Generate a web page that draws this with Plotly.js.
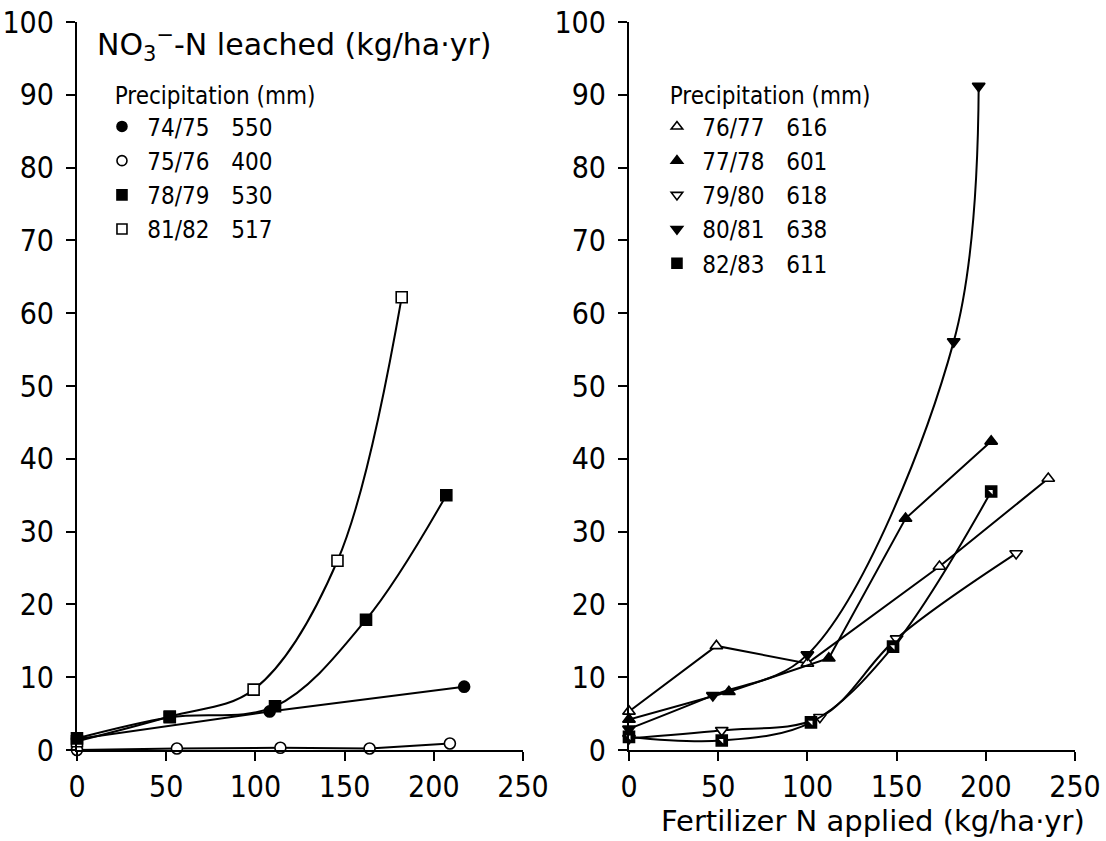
<!DOCTYPE html>
<html>
<head>
<meta charset="utf-8">
<script src="https://cdn.plot.ly/plotly-3.0.1.min.js"></script>
<style>html,body{margin:0;padding:0;background:#fff;}#chart{width:1106px;height:841px;}</style>
</head>
<body>
<div id="chart"></div>
<script>
// ---- Data ----
const xTicks = [0, 50, 100, 150, 200, 250];
const yTicks = [0, 10, 20, 30, 40, 50, 60, 70, 80, 90, 100];

// Left panel
const leftSeries = ["74/75", "75/76", "78/79", "81/82"];
const leftPrecip = [550, 400, 530, 517];
const x7475 = [0, 108, 217];           const y7475 = [1.5, 5.3, 8.7];
const x7576 = [0, 56, 114, 164, 209];  const y7576 = [0, 0.2, 0.3, 0.2, 0.9];
const x7879 = [0, 52, 111, 162, 207];  const y7879 = [1.6, 4.5, 6.0, 17.9, 35.0];
const x8182 = [0, 52, 99, 146, 182];   const y8182 = [1.2, 4.6, 8.3, 26.0, 62.2];

// Right panel
const rightSeries = ["76/77", "77/78", "79/80", "80/81", "82/83"];
const rightPrecip = [616, 601, 618, 638, 611];
const x7677 = [0, 49, 100, 174, 235];  const y7677 = [5.3, 14.3, 11.9, 25.2, 37.3];
const x7778 = [0, 56, 112, 155, 203];  const y7778 = [4.2, 8.0, 12.6, 31.8, 42.4];
const x7980 = [0, 52, 107, 150, 217];  const y7980 = [1.6, 2.7, 4.5, 15.3, 27.0];
const x8081 = [0, 47, 100, 182, 196];  const y8081 = [2.9, 7.5, 13.1, 56.1, 91.2];
const x8283 = [0, 52, 102, 148, 203];  const y8283 = [1.8, 1.3, 3.8, 14.2, 35.5];

// ---- Styling ----
const FONT = "'DejaVu Sans Condensed', 'DejaVu Sans', sans-serif";
const TFONT = "'DejaVu Sans', sans-serif";
const BLK = '#000';

function sym(name, filled) {
  return {symbol: name, size: 11, color: filled ? BLK : '#fff', line: {color: BLK, width: 1.6}};
}
function curve(x, y, xa, ya, marker, shape) {
  return {x: x, y: y, xaxis: xa, yaxis: ya, type: 'scatter', mode: 'lines+markers',
    line: {color: BLK, width: 2, shape: shape, smoothing: 1}, marker: marker,
    showlegend: false, cliponaxis: false, hoverinfo: 'x+y'};
}
function legendEntry(label, precip, marker, legend) {
  return {x: [null], y: [null], xaxis: legend === 'legend' ? 'x' : 'x2', yaxis: legend === 'legend' ? 'y' : 'y2',
    type: 'scatter', mode: 'markers', marker: Object.assign({}, marker, {size: 10}),
    name: '\u2005' + label + '\u2002\u2002' + precip, legend: legend, legendgroup: legend + label, showlegend: true};
}

const mFC = sym('circle', true), mOC = sym('circle', false);
const mFS = sym('square', true), mOS = sym('square', false);
const mOT = sym('triangle-up', false), mFT = sym('triangle-up', true);
const mOD = sym('triangle-down', false), mFD = sym('triangle-down', true);
const mHS = sym('square', true);
const mHSinner = {symbol: 'triangle-ne', size: 5, color: '#fff', line: {width: 0}};

const traces = [
  curve(x7475, y7475, 'x', 'y', mFC, 'linear'),
  curve(x7576, y7576, 'x', 'y', mOC, 'linear'),
  curve(x8182, y8182, 'x', 'y', mOS, 'spline'),
  curve(x7879, y7879, 'x', 'y', mFS, 'spline'),

  curve(x7677, y7677, 'x2', 'y2', mOT, 'linear'),
  curve(x7980, y7980, 'x2', 'y2', mOD, 'spline'),
  curve(x8283, y8283, 'x2', 'y2', mHS, 'spline'),
  {x: x8283, y: y8283, xaxis: 'x2', yaxis: 'y2', type: 'scatter', mode: 'markers', marker: mHSinner,
    showlegend: false, cliponaxis: false, hoverinfo: 'skip'},
  curve(x7778, y7778, 'x2', 'y2', mFT, 'linear'),
  curve(x8081, y8081, 'x2', 'y2', mFD, 'spline'),
];

const leftMarkers = [mFC, mOC, mFS, mOS];
leftSeries.forEach((s, i) => traces.push(legendEntry(s, leftPrecip[i], leftMarkers[i], 'legend')));
const rightMarkers = [mOT, mFT, mOD, mFD, mHS];
rightSeries.forEach((s, i) => traces.push(legendEntry(s, rightPrecip[i], rightMarkers[i], 'legend2')));

function xax(domain, anchor) {
  return {domain: domain, anchor: anchor, range: [0, 250], tickvals: xTicks, ticktext: xTicks.map(String),
    showgrid: false, zeroline: false, showline: true, linecolor: BLK, linewidth: 2,
    ticks: 'outside', ticklen: 9, tickwidth: 2, tickcolor: BLK, ticklabelstandoff: 0,
    tickfont: {family: FONT, size: 30, color: BLK}, fixedrange: true, automargin: false};
}
function yax(anchor) {
  return {domain: [0.1082, 0.9738], anchor: anchor, range: [0, 100], tickvals: yTicks, ticktext: yTicks.map(String),
    showgrid: false, zeroline: false, showline: true, linecolor: BLK, linewidth: 2,
    ticks: 'outside', ticklen: 9, tickwidth: 2, tickcolor: BLK, ticklabelstandoff: 6,
    tickfont: {family: FONT, size: 30, color: BLK}, fixedrange: true, automargin: false};
}
function leg(x) {
  return {x: x, y: 0.913, xanchor: 'left', yanchor: 'top', xref: 'paper', yref: 'paper',
    bgcolor: 'rgba(0,0,0,0)', borderwidth: 0, tracegroupgap: 8, traceorder: 'normal',
    title: {text: '\u2002Precipitation (mm)', font: {family: FONT, size: 24, color: BLK}},
    font: {family: FONT, size: 24, color: BLK}, itemclick: false, itemdoubleclick: false};
}

const layout = {
  width: 1106, height: 841,
  margin: {l: 0, r: 0, t: 0, b: 0},
  paper_bgcolor: '#fff', plot_bgcolor: '#fff',
  showlegend: true,
  xaxis: xax([0.0696, 0.4729], 'y'),
  yaxis: yax('x'),
  xaxis2: xax([0.5687, 0.972], 'y2'),
  yaxis2: yax('x2'),
  legend: leg(0.0922),
  legend2: leg(0.594),
  annotations: [
    {text: 'NO<sub>3</sub><sup>\u2212</sup>-N leached (kg/ha\u00b7yr)', xref: 'paper', yref: 'paper',
      x: 0.0859, y: 0.9465, xanchor: 'left', yanchor: 'middle', showarrow: false,
      font: {family: TFONT, size: 30, color: BLK}},
    {text: 'Fertilizer N applied (kg/ha\u00b7yr)', xref: 'paper', yref: 'paper',
      x: 0.789, y: 0.0235, xanchor: 'center', yanchor: 'middle', showarrow: false,
      font: {family: TFONT, size: 29, color: BLK}}
  ]
};

Plotly.newPlot('chart', traces, layout, {displayModeBar: false, staticPlot: true});
</script>
</body>
</html>
